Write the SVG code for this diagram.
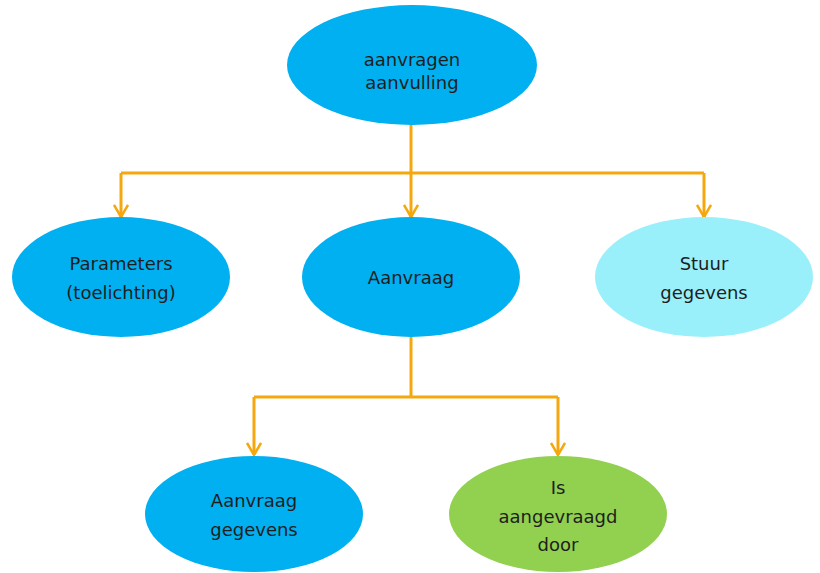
<svg xmlns="http://www.w3.org/2000/svg" width="820" height="573" viewBox="0 0 820 573">
<style>
.t{font-family:"DejaVu Sans","Liberation Sans",sans-serif;font-size:18px;fill:#1e1e1e;text-anchor:middle}
.c{fill:none;stroke:#F5A70E;stroke-width:3}
.blue{fill:#00B0F0}
.cyan{fill:#99F0FA}
.green{fill:#92D050}
</style>
<defs>
<marker id="ah" viewBox="0 0 16 16" refX="15" refY="8" markerWidth="16" markerHeight="16" markerUnits="userSpaceOnUse" orient="auto">
<polyline points="3,1 15,8 3,15" fill="none" stroke="#F5A70E" stroke-width="2.5"/>
</marker>
</defs>
<rect width="820" height="573" fill="#fff"/>
<g id="connectors">
<line class="c" x1="411" y1="124" x2="411" y2="173"/>
<line class="c" x1="121" y1="173" x2="704" y2="173"/>
<polyline class="c" points="121,173 121,217" marker-end="url(#ah)"/>
<polyline class="c" points="411,173 411,217" marker-end="url(#ah)"/>
<polyline class="c" points="704,173 704,217" marker-end="url(#ah)"/>
<line class="c" x1="411" y1="337" x2="411" y2="397"/>
<line class="c" x1="254" y1="397" x2="558" y2="397"/>
<polyline class="c" points="254,397 254,455" marker-end="url(#ah)"/>
<polyline class="c" points="558,397 558,455" marker-end="url(#ah)"/>
</g>
<g id="aanvragen-aanvulling">
<ellipse class="blue" cx="412" cy="65" rx="125" ry="60"/>
<text class="t" x="412" y="66">aanvragen</text>
<text class="t" x="412" y="89">aanvulling</text>
</g>
<g id="parameters">
<ellipse class="blue" cx="121" cy="277" rx="109" ry="60"/>
<text class="t" x="121" y="270">Parameters</text>
<text class="t" x="121" y="299">(toelichting)</text>
</g>
<g id="aanvraag">
<ellipse class="blue" cx="411" cy="277" rx="109" ry="60"/>
<text class="t" x="411" y="284">Aanvraag</text>
</g>
<g id="stuur-gegevens">
<ellipse class="cyan" cx="704" cy="277" rx="109" ry="60"/>
<text class="t" x="704" y="270">Stuur</text>
<text class="t" x="704" y="299">gegevens</text>
</g>
<g id="aanvraag-gegevens">
<ellipse class="blue" cx="254" cy="514" rx="109" ry="58"/>
<text class="t" x="254" y="507">Aanvraag</text>
<text class="t" x="254" y="536">gegevens</text>
</g>
<g id="is-aangevraagd-door">
<ellipse class="green" cx="558" cy="514" rx="109" ry="58"/>
<text class="t" x="558" y="494">Is</text>
<text class="t" x="558" y="523">aangevraagd</text>
<text class="t" x="558" y="551">door</text>
</g>
</svg>
